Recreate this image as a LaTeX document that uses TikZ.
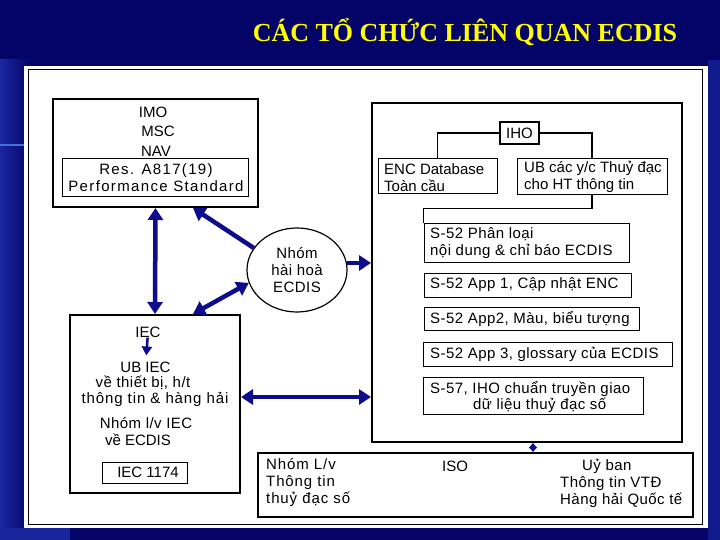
\documentclass[tikz,border=0pt]{standalone}
\usepackage{fontspec}
\setmainfont{Liberation Sans}
\newfontfamily\titlefont{Liberation Serif}
\newfontfamily\trkS{Liberation Sans}[LetterSpace=3]
\newfontfamily\trkM{Liberation Sans}[LetterSpace=6]
\newfontfamily\trkL{Liberation Sans}[LetterSpace=9]
\newcommand\fsz{\fontsize{15}{17}\selectfont}
\usepackage{tikz}
\usetikzlibrary{arrows.meta,shapes.geometric}
\definecolor{bgnavy}{RGB}{4,4,104}
\definecolor{bgblue}{RGB}{30,45,170}
\definecolor{bgline}{RGB}{70,110,220}
\definecolor{arrblue}{RGB}{12,12,140}
\definecolor{titleyellow}{RGB}{255,255,0}

\begin{document}
\begin{tikzpicture}[x=1pt, y=-1pt,
    font=\fsz,
    box/.style = {draw, line width=2pt, inner sep=0pt},
    sbox/.style = {draw, line width=1pt, inner sep=0pt},
    lbl/.style = {inner sep=0pt, align=center},
    tS/.style = {font=\trkS\fsz},
    tM/.style = {font=\trkM\fsz},
    tL/.style = {font=\trkL\fsz},
    ell/.style = {draw, ellipse, line width=1.2pt, inner sep=0pt, align=center, minimum width=100pt, minimum height=84pt},
    arr/.style = {draw=arrblue, line width=4.5pt, >={Triangle[width=15pt,length=12pt]}},
    sarr/.style = {draw=arrblue, line width=2.5pt, >={Triangle[width=10pt,length=9pt]}}
]
\useasboundingbox (0,0) rectangle (720,540);
\fill[bgnavy] (0,0) rectangle (720,540);
\shade[left color=bgblue!85!bgnavy, right color=bgnavy] (0,60) rectangle (30,540);
\fill[bgblue!80!bgnavy] (0,528) rectangle (70,540);
\fill[bgblue!55!bgnavy] (708,60) rectangle (720,540);
\draw[bgline, line width=2pt] (0,145) -- (24,145);
\fill[white] (24,66) rectangle (708,528);
\draw[line width=1pt] (28,70) rectangle (702,524);

\node (title) [font=\titlefont\bfseries\fontsize{26}{30}\selectfont, text=titleyellow] at (465,32) {CÁC TỔ CHỨC LIÊN QUAN ECDIS};

\node (imo) [box, minimum width=205pt, minimum height=108pt] at (155.5,153) {};
\node (imot) [lbl] at (153,112) {IMO};
\node (msc) [lbl] at (158,131) {MSC};
\node (nav) [lbl] at (156,151) {NAV};
\node (res) [sbox, minimum width=186pt, minimum height=38pt] at (155,178) {};
\node (rest) [lbl, tL] at (156,178) {Res. A817(19)\\Performance Standard};

\node (harm) [ell, tS] at (297,270) {Nhóm\\hài hoà\\ECDIS};

\node (iec) [box, minimum width=170pt, minimum height=178pt] at (155,404) {};
\node (iect) [lbl] at (148,332) {IEC};
\node (ubiec) [lbl] at (145.5,367) {UB IEC};
\node (vethiet) [lbl, tS] at (143,383) {về thiết bị, h/t};
\node (thongtin) [lbl, tM] at (155,399) {thông tin \& hàng hải};
\node (nhomlv) [lbl, tS] at (146,423) {Nhóm l/v IEC};
\node (veecdis) [lbl] at (138,440) {về ECDIS};
\node (iec1174) [sbox, minimum width=85pt, minimum height=21pt] at (144.5,472.5) {\hspace*{7pt}IEC 1174};

\node (ihoreg) [box, minimum width=310pt, minimum height=339pt] at (527,272.5) {};
\node (iho) [sbox, line width=1.5pt, minimum width=39pt, minimum height=22pt] at (519.5,133) {IHO};
\node (enc) [sbox, minimum width=119pt, minimum height=35pt] at (437.5,176.5) {};
\node (enct) [lbl, align=left, anchor=west] at (384,178) {ENC Database\\Toàn cầu};
\node (ub) [sbox, minimum width=150pt, minimum height=36pt] at (592,177) {};
\node (ubt) [lbl, align=left, anchor=west] at (524,176.5) {UB các y/c Thuỷ đạc\\cho HT thông tin};
\node (s52a) [sbox, minimum width=205pt, minimum height=38pt] at (526.5,243) {};
\node (s52at) [lbl, tS, align=left, anchor=west] at (430,243.5) {S-52 Phân loại\\nội dung \& chỉ báo ECDIS};
\node (s52b) [sbox, minimum width=207pt, minimum height=24pt] at (527.5,285) {};
\node (s52bt) [lbl, tS, anchor=west] at (430,285) {S-52 App 1, Cập nhật ENC};
\node (s52c) [sbox, minimum width=215pt, minimum height=23pt] at (531.5,318.5) {};
\node (s52ct) [lbl, tS, anchor=west] at (430,319) {S-52 App2, Màu, biểu tượng};
\node (s52d) [sbox, minimum width=249pt, minimum height=24pt] at (547.5,354) {};
\node (s52dt) [lbl, tS, anchor=west] at (430,354) {S-52 App 3, glossary của ECDIS};
\node (s57) [sbox, minimum width=220pt, minimum height=37pt] at (533,395.5) {};
\node (s57t) [lbl, tS, align=left, anchor=west] at (430,397) {S-57, IHO chuẩn truyền giao\\\hspace*{43pt}dữ liệu thuỷ đạc số};

\node (iso) [box, minimum width=435pt, minimum height=64pt] at (475.5,485) {};
\node (isot) [lbl] at (455,466) {ISO};
\node (nhomth) [lbl, tM, align=left, anchor=west] at (266,483) {Nhóm L/v\\Thông tin\\thuỷ đạc số};
\node (imc) [lbl, tS, align=left, anchor=west] at (560,483) {\hspace*{22pt}Uỷ ban\\Thông tin VTĐ\\Hàng hải Quốc tế};

\draw[line width=1.5pt] (iho.west) -| (enc.north);
\draw[line width=1.5pt] (iho.east) -| (ub.north);
\draw[line width=1.5pt] (ub.south) -- ++(0,13) -| (s52a.north west);

\draw[arr, <->] (imo.south) -- (iec.north);
\draw[arr, <-] (193,0 |- imo.south) -- (harm.153);
\draw[arr, <->] (193,0 |- iec.north) -- (harm.195);
\draw[arr, ->] (harm.8) -- (harm.8 -| ihoreg.west);
\coordinate (mid) at ([yshift=7pt]iec.east);
\draw[arr, <->] (mid) -- (mid -| ihoreg.west);
\draw[sarr, ->, shorten >=6pt] (iect) -- (ubiec);
\draw[sarr, line width=1.2pt, >={Triangle[width=8pt,length=5pt]}, <->] (533,0 |- ihoreg.south) -- (533,0 |- iso.north);
\end{tikzpicture}
\end{document}
